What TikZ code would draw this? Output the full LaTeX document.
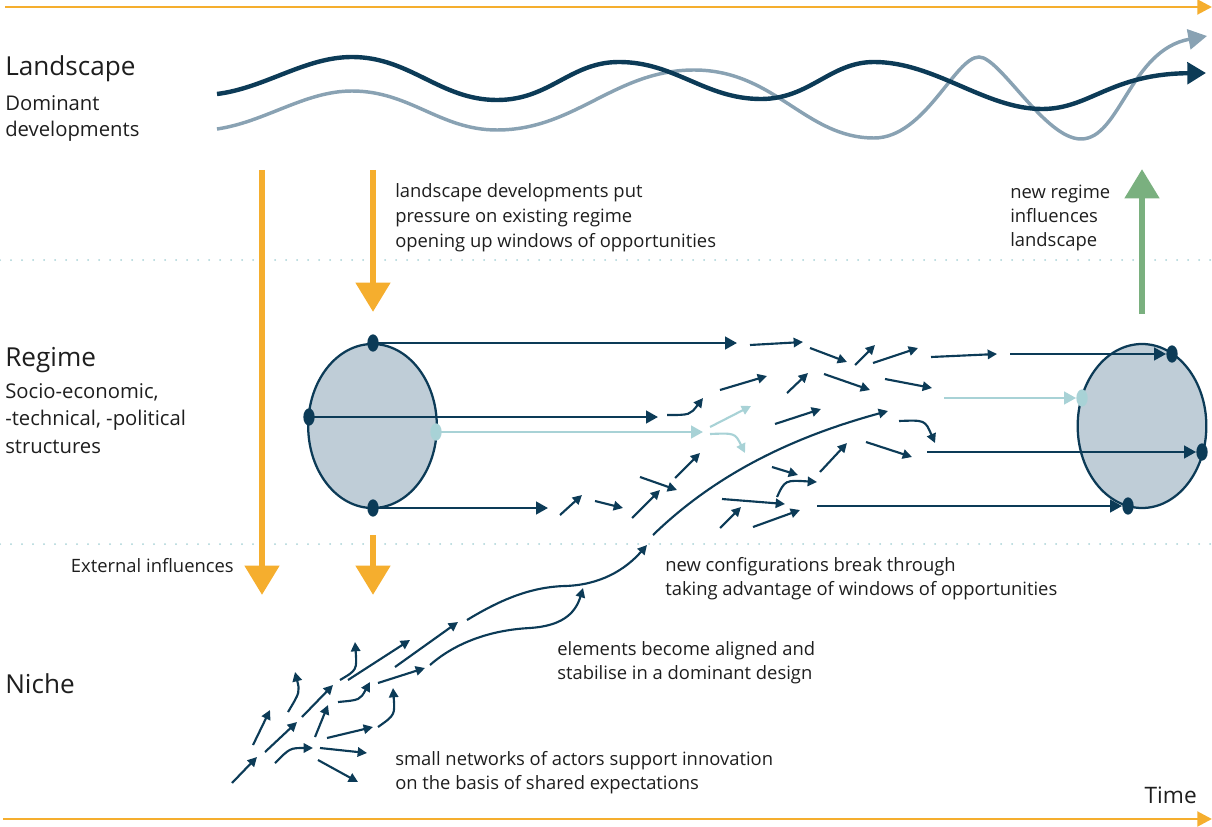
\documentclass[tikz,border=0pt]{standalone}
\usepackage{fontspec}
\setmainfont{Open Sans}
\usetikzlibrary{arrows.meta,shapes.geometric}
\definecolor{navy}{HTML}{0C3B57}
\definecolor{fillblue}{HTML}{BFCDD7}
\definecolor{paleteal}{HTML}{A8D2D6}
\definecolor{greyblue}{HTML}{89A2B3}
\definecolor{amber}{HTML}{F5AE2E}
\definecolor{sage}{HTML}{7AB07F}
\definecolor{ink}{HTML}{1E1E1E}
\begin{document}
\begin{tikzpicture}[x=0.75pt,y=-0.75pt,
  every node/.style={inner sep=0pt, text=ink},
  heading/.style={font=\fontsize{19.6}{23}\selectfont, anchor=base west},
  sublabel/.style={font=\fontsize{15.2}{20}\selectfont, align=left, anchor=north west},
  note/.style={font=\fontsize{13.8}{18}\selectfont, align=left, anchor=north west},
  separator/.style={draw=paleteal, line width=1.5pt, line cap=round, dash pattern=on 0pt off 8.25pt},
  timeline/.style={draw=amber, line width=2.2pt, -{Triangle[length=11pt,width=11pt]}},
  push/.style={draw=amber, line width=5pt, -{Triangle[length=22pt,width=25pt]}},
  lift/.style={draw=sage, line width=5pt, -{Triangle[length=22pt,width=25pt]}},
  darkwave/.style={draw=navy, line width=3.3pt, -{Triangle[length=14pt,width=16pt]}},
  greywave/.style={draw=greyblue, line width=2.6pt, -{Triangle[length=14pt,width=15pt]}},
  regime/.style={ellipse, draw=navy, fill=fillblue, line width=1.7pt, minimum width=96.5pt, minimum height=123pt},
  pin/.style={ellipse, fill=navy, minimum width=8.5pt, minimum height=13pt},
  palepin/.style={pin, fill=paleteal},
  mainflow/.style={draw=navy, line width=1.8pt, -{Triangle[length=9pt,width=9.5pt]}},
  paleflow/.style={draw=paleteal, line width=1.8pt, -{Triangle[length=9pt,width=9.5pt]}},
  flow/.style={draw=navy, line width=1.6pt, -{Triangle[length=7pt,width=7pt]}},
  paleshort/.style={draw=paleteal, line width=1.6pt, -{Triangle[length=7pt,width=7pt]}}
]
\useasboundingbox (0,0) rectangle (1212,827);

% level separators
\coordinate (sepAw) at (0,260);   \coordinate (sepAe) at (1212,260);
\coordinate (sepBw) at (0,544);   \coordinate (sepBe) at (1212,544);
\draw[separator] (sepAw) -- (sepAe);
\draw[separator] (sepBw) -- (sepBe);

% time axes
\coordinate (timeTopS) at (5,7);   \coordinate (timeTopE) at (1212,7);
\coordinate (timeBotS) at (3,819); \coordinate (timeBotE) at (1212,819);
\draw[timeline] (timeTopS) -- (timeTopE);
\draw[timeline] (timeBotS) -- (timeBotE);

% landscape developments
\draw[greywave] (217,129) .. controls (265,122) and (305,91) .. (352,91)
  .. controls (410,91) and (440,130) .. (497,130)
  .. controls (575,130) and (615,70) .. (694,70)
  .. controls (775,70) and (805,138) .. (874,138)
  .. controls (925,138) and (955,57) .. (979,57)
  .. controls (1000,57) and (1045,139) .. (1081,139)
  .. controls (1120,139) and (1130,50) .. (1207,36);
\draw[darkwave] (217,94) .. controls (265,88) and (305,57) .. (352,57)
  .. controls (410,57) and (440,100) .. (497,100)
  .. controls (550,100) and (570,62) .. (619,62)
  .. controls (675,62) and (705,99) .. (761,99)
  .. controls (810,99) and (830,62) .. (874,62)
  .. controls (935,62) and (985,109) .. (1042,109)
  .. controls (1090,109) and (1110,74) .. (1206,73);

% external pressure and feedback
\coordinate (extS) at (262,170);   \coordinate (extE) at (262,595);
\coordinate (pressS) at (373,170); \coordinate (pressE) at (373,312);
\coordinate (dropS) at (373,535);  \coordinate (dropE) at (373,595);
\coordinate (liftS) at (1142,314); \coordinate (liftE) at (1142,169);
\draw[push] (extS) -- (extE);
\draw[push] (pressS) -- (pressE);
\draw[push] (dropS) -- (dropE);
\draw[lift] (liftS) -- (liftE);

% regimes
\node[regime] (regL) at (372.5,426) {};
\node[regime] (regR) at (1142,426) {};

% trajectories of the existing regime
\coordinate (lTopE) at (737,343);
\coordinate (lMidE) at (658,417);
\coordinate (lPaleE) at (703,432);
\coordinate (lBotE) at (548,508);
\draw[mainflow] (373,343) -- (lTopE);
\draw[mainflow] (309,417) -- (lMidE);
\draw[paleflow] (436,432) -- (lPaleE);
\draw[mainflow] (373,508) -- (lBotE);

% trajectories into the new regime
\coordinate (rTopS) at (1010,354);
\coordinate (rPaleS) at (944,398);
\coordinate (rMidS) at (927,452);
\coordinate (rBotS) at (817,506);

\node[pin] (ltop) at (373,343) {};
\node[pin] (lleft) at (309,417) {};
\node[palepin] (llight) at (436,432) {};
\node[pin] (lbot) at (373,508) {};
\node[pin] (rtop) at (1172,354) {};
\node[palepin] (rlight) at (1082,398) {};
\node[pin] (rright) at (1202,452) {};
\node[pin] (rbot) at (1128,506) {};

\draw[mainflow] (rTopS) -- (rtop);
\draw[paleflow] (rPaleS) -- (rlight);
\draw[mainflow] (rMidS) -- (rright);
\draw[mainflow] (rBotS) -- (rbot);

% regime in flux
\draw[flow] (750,345) -- (803,342);
\draw[flow] (810,348) -- (847,362);
\draw[flow] (855,365) -- (875,345);
\draw[flow] (873,363) -- (918,348);
\draw[flow] (931,357) -- (997,354);
\draw[flow] (720,390) -- (767,376);
\draw[flow] (787,393) -- (808,373);
\draw[flow] (824,374) -- (870,390);
\draw[flow] (885,379) -- (932,388);
\draw[flow] (667,415) .. controls (690,415) .. (703,398);
\draw[flow] (775,424) -- (821,409);
\draw[flow] (899,421) .. controls (925,420) .. (935,443);
\draw[flow] (866,442) -- (912,457);
\draw[flow] (820,472) -- (847,443);
\draw[flow] (772,467) -- (798,475);
\draw[flow] (777,497) .. controls (785,480) .. (817,482);
\draw[flow] (722,499) -- (785,504);
\draw[flow] (720,528) -- (741,507);
\draw[flow] (753,527) -- (800,510);
\draw[flow] (640,477) -- (677,490);
\draw[flow] (675,478) -- (700,453);
\draw[flow] (632,518) -- (660,490);
\draw[flow] (595,501) -- (623,508);
\draw[flow] (560,515) -- (582,495);
\draw[paleshort] (710,427) -- (751,406);
\draw[paleshort] (710,434) .. controls (735,433) .. (745,453);
\draw[flow] (653,535) .. controls (720,470) and (800,435) .. (888,411);

% niche experiments
\draw[flow] (232,783) -- (257,757);
\draw[flow] (265,752) -- (297,722);
\draw[flow] (302,717) -- (333,685);
\draw[flow] (348,680) -- (410,640);
\draw[flow] (395,667) -- (458,622);
\draw[flow] (467,620) .. controls (500,600) and (530,587) .. (565,586)
  .. controls (600,585) and (625,570) .. (647,545);
\draw[flow] (430,665) .. controls (455,643) and (490,630) .. (530,628)
  .. controls (560,626) and (575,615) .. (583,588);
\draw[flow] (378,683) -- (425,668);
\draw[flow] (338,702) .. controls (360,700) .. (370,682);
\draw[flow] (288,712) .. controls (300,692) .. (295,672);
\draw[flow] (340,680) .. controls (357,670) .. (355,642);
\draw[flow] (253,745) -- (270,710);
\draw[flow] (315,737) -- (328,705);
\draw[flow] (327,738) -- (373,727);
\draw[flow] (378,727) .. controls (395,715) .. (393,688);
\draw[flow] (275,763) .. controls (290,748) .. (313,748);
\draw[flow] (320,748) -- (367,753);
\draw[flow] (318,760) -- (358,782);

% labels
\node[heading] (landscapeLbl) at (5,76) {Landscape};
\node[sublabel] (landscapeSub) at (5,95) {Dominant\\developments};
\node[heading] (regimeLbl) at (5,366) {Regime};
\node[sublabel, font=\fontsize{15.2}{20.6}\selectfont] (regimeSub) at (5,383) {Socio-economic,\\-technical, -political\\structures};
\node[heading] (nicheLbl) at (5,693) {Niche};
\node[note, anchor=base east] (extLbl) at (234,572) {External influences};
\node[note, font=\fontsize{13.8}{19}\selectfont] (pressureLbl) at (395,183) {landscape developments put\\pressure on existing regime\\opening up windows of opportunities};
\node[note] (feedbackLbl) at (1010,185) {new regime\\influences\\landscape};
\node[note] (breakLbl) at (665,557) {new configurations break through\\taking advantage of windows of opportunities};
\node[note] (alignLbl) at (557,641) {elements become aligned and\\stabilise in a dominant design};
\node[note] (nicheNote) at (395,751) {small networks of actors support innovation\\on the basis of shared expectations};
\node[heading, anchor=base east, font=\fontsize{17}{20}\selectfont] (timeLbl) at (1197,803) {Time};
\end{tikzpicture}
\end{document}
